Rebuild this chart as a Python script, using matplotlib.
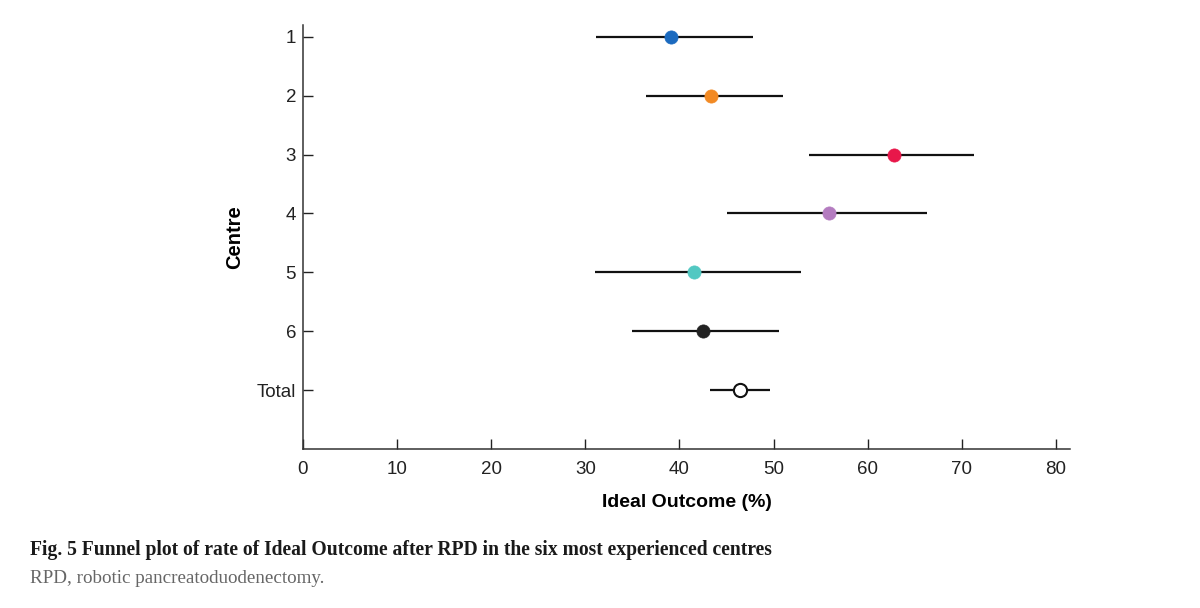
import matplotlib
matplotlib.use("Agg")
import matplotlib.pyplot as plt

centres = ["1", "2", "3", "4", "5", "6", "Total"]
rates = [39.1, 43.4, 62.8, 55.9, 41.6, 42.5, 46.4]
ci_low = [31.1, 36.4, 53.8, 45.1, 31.0, 35.0, 43.3]
ci_high = [47.8, 51.0, 71.3, 66.3, 52.9, 50.6, 49.6]
colors = ["#1b6abf", "#f28a24", "#e8174a", "#b47cc0", "#52c8c2", "#222222", "white"]
xticks = [0, 10, 20, 30, 40, 50, 60, 70, 80]

plt.rcParams['font.family'] = ['Liberation Sans', 'DejaVu Sans']

fig = plt.figure(figsize=(12, 6.08), dpi=100)
ax = fig.add_axes([303/1200, 1-449/608, (1070-303)/1200, (449-25)/608])

ypos = list(range(1, len(centres) + 1))
for y, r, lo, hi, c in zip(ypos, rates, ci_low, ci_high, colors):
    ax.plot([lo, hi], [y, y], color="#111111", lw=1.6, zorder=2, solid_capstyle='butt')
    ax.plot([r], [y], marker='o', ms=9.5, markerfacecolor=c,
            markeredgecolor=("#111111" if c == "white" else c),
            markeredgewidth=(1.5 if c == "white" else 0.5), zorder=3, linestyle='none')

ax.set_ylim(8, 0.8)
ax.set_xlim(0, 81.5)
ax.set_yticks(ypos)
ax.set_yticklabels(centres)
ax.set_xticks(xticks)
ax.set_xticklabels([str(t) for t in xticks])
ax.tick_params(direction='in', length=7, width=1, labelsize=13.5, colors="#222222")
ax.tick_params(axis='x', pad=9)
ax.tick_params(axis='y', pad=5)
for s in ['top', 'right']:
    ax.spines[s].set_visible(False)
for s in ['left', 'bottom']:
    ax.spines[s].set_linewidth(1.1)
    ax.spines[s].set_color("#333333")

ax.set_xlabel("Ideal Outcome (%)", fontsize=14, fontweight='bold', labelpad=11)
ax.set_ylabel("Centre", fontsize=14.5, fontweight='bold', labelpad=9)

fig.text(30/1200, 1-555/608, "Fig. 5 Funnel plot of rate of Ideal Outcome after RPD in the six most experienced centres",
         family=['Liberation Serif', 'DejaVu Serif'], fontweight='bold', fontsize=14.1, color="#1a1a1a",
         ha='left', va='baseline')
fig.text(30/1200, 1-583/608, "RPD, robotic pancreatoduodenectomy.",
         family=['Liberation Serif', 'DejaVu Serif'], fontsize=13.7, color="#666666",
         ha='left', va='baseline')

fig.savefig("out.png", dpi=100, facecolor='white')
